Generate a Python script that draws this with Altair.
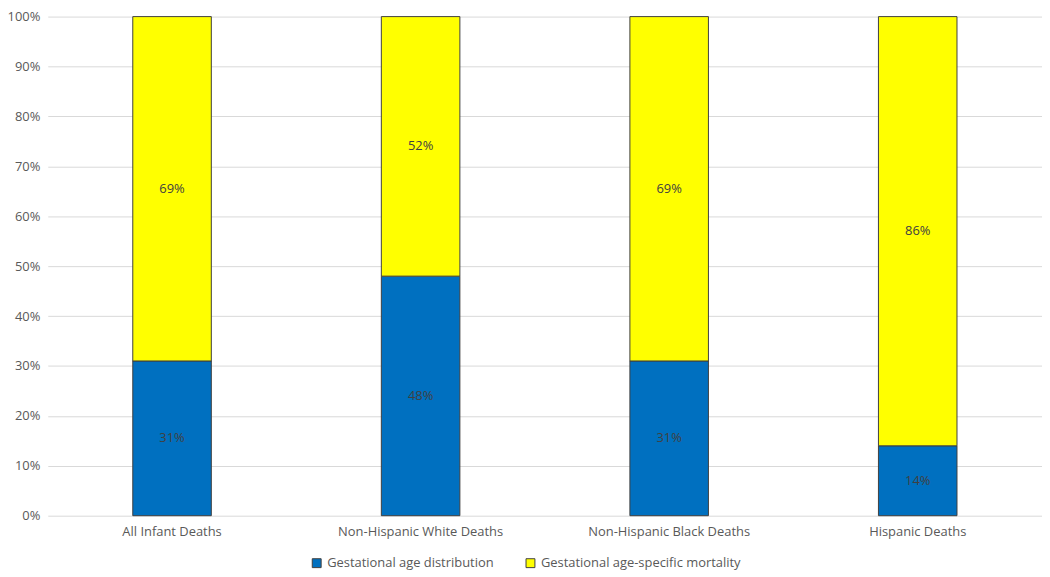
import altair as alt
import pandas as pd

categories = ["All Infant Deaths", "Non-Hispanic White Deaths", "Non-Hispanic Black Deaths", "Hispanic Deaths"]
series = ["Gestational age distribution", "Gestational age-specific mortality"]
dist_vals = [31, 48, 31, 14]
mort_vals = [69, 52, 69, 86]
colors = ["#0070C0", "#FFFF00"]

rows = []
for c, d, m in zip(categories, dist_vals, mort_vals):
    rows.append({"cat": c, "series": series[0], "value": d / 100, "ord": 0, "label": f"{d}%"})
    rows.append({"cat": c, "series": series[1], "value": m / 100, "ord": 1, "label": f"{m}%"})
df = pd.DataFrame(rows)

FONT = "Open Sans"
FS = 13

base = alt.Chart(df).transform_stack(
    stack="value", groupby=["cat"], as_=["y0", "y1"], sort=[alt.SortField("ord", order="ascending")]
).transform_calculate(mid="(datum.y0 + datum.y1) / 2")

x = alt.X("cat:N", sort=categories, title=None,
          axis=alt.Axis(labelAngle=0, domain=False, ticks=False, labelPadding=10,
                        labelFontSize=FS, labelColor="#595959", labelFont=FONT, labelLimit=0))

bars = base.mark_bar(size=79, stroke="#404040", strokeWidth=1).encode(
    x=x,
    y=alt.Y("y0:Q", scale=alt.Scale(domain=[0, 1], nice=False), title=None,
            axis=alt.Axis(format=".0%", values=[i / 10 for i in range(11)], domain=False, ticks=False,
                          labelPadding=8, labelFontSize=FS, labelColor="#595959", labelFont=FONT,
                          gridColor="#D9D9D9", gridWidth=1)),
    y2="y1:Q",
    color=alt.Color("series:N", scale=alt.Scale(domain=series, range=colors), title=None,
                    legend=alt.Legend(orient="none", legendX=264, legendY=543, direction="horizontal",
                                      symbolType="square", symbolSize=80, symbolStrokeColor="#404040",
                                      symbolStrokeWidth=1, labelFontSize=FS, labelColor="#595959",
                                      labelFont=FONT, columnPadding=30, symbolOpacity=1, labelLimit=0)),
)

text = base.mark_text(fontSize=FS, color="#404040", font=FONT).encode(
    x=alt.X("cat:N", sort=categories),
    y=alt.Y("mid:Q"),
    text="label:N",
)

chart = (bars + text).properties(
    width=1000, height=502,
    padding={"left": 40, "top": 7, "right": 0, "bottom": 58},
    autosize=alt.AutoSizeParams(type="none"),
).configure_view(stroke=None)

chart.save("out.html", embed_options={"renderer": "svg", "actions": False})
